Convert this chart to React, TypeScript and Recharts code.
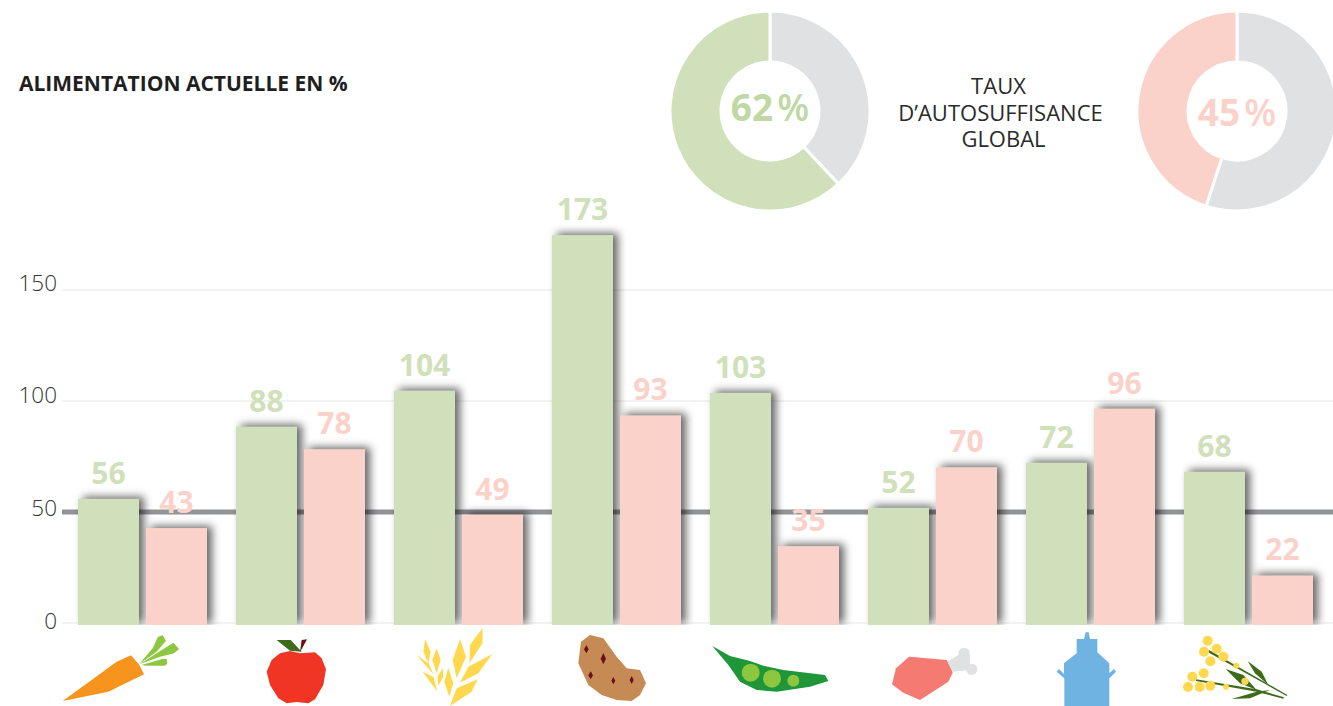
import React from "react";
import { ComposedChart, Bar, XAxis, YAxis, CartesianGrid, LabelList, PieChart, Pie, Cell } from "recharts";

const categories = ["Carottes", "Pommes", "Céréales", "Pommes de terre", "Légumineuses", "Viande", "Lait", "Oléagineux"];
const actuelle = [56, 88, 104, 173, 103, 52, 72, 68];
const autosuffisance = [43, 78, 49, 93, 35, 70, 96, 22];
const yTicks = [0, 50, 100, 150];
const donutGreen = [{ name: "reste", value: 38 }, { name: "actuelle", value: 62 }];
const donutPink = [{ name: "reste", value: 55 }, { name: "autosuffisance", value: 45 }];
const rows = categories.map((c, i) => ({ c, a: actuelle[i], b: autosuffisance[i] }));

const GREEN = "#cfe0ba";
const PINK = "#fbd2ca";
const GREY = "#e0e1e3";
const FONT = "'Open Sans', sans-serif";
const tickNudge = [3, 1, -1, -2];

type Shape = { f: string; p?: string; c?: [number, number, number] };
const diamond = (x: number, y: number, h: number, w: number) => `${x},${y - h} ${x + w},${y} ${x},${y + h} ${x - w},${y}`;
const ZOOM_A = [0, 440];
const ZOOM_B = [400, 500];
const ZOOM_C = [860, 500];
const Y = "#ffd84d";
const DK = "#3d6b1a";
const LG = "#8dc63f";
const SP = "#6b0f1a";
const icons: { origin: number[]; cx: number; shapes: Shape[] }[] = [
  { origin: ZOOM_A, cx: 142, shapes: [
    { f: "#f7941d", p: "188,783 350,665 393,646 418,675 432,703 325,755" },
    { f: LG, p: "418,672 458,625 474,590 488,586 498,602 470,635" },
    { f: LG, p: "420,672 470,640 520,608 537,627 522,640 480,650" },
    { f: LG, p: "424,675 490,656 500,657 502,670 495,677 440,677" },
  ] },
  { origin: ZOOM_A, cx: 300, shapes: [
    { f: "#f13524", p: "800,695 815,660 840,640 870,633 900,640 945,637 965,655 978,688 970,735 945,778 925,790 890,786 860,790 835,775 810,735" },
    { f: DK, p: "830,600 872,600 905,635 870,632" },
    { f: SP, p: "905,600 921,598 900,637" },
  ] },
  { origin: ZOOM_B, cx: 458, shapes: [
    { f: Y, p: "75,418 92,455 85,490 70,455" },
    { f: Y, p: "110,445 122,480 110,520 97,480" },
    { f: Y, p: "50,465 85,490 102,525" },
    { f: Y, p: "68,515 100,530 112,575" },
    { f: Y, p: "128,505 130,530 115,557 112,530" },
    { f: Y, p: "145,503 160,550 148,590 133,545" },
    { f: Y, p: "180,417 198,470 170,535 158,480" },
    { f: Y, p: "248,383 247,430 208,490 210,435" },
    { f: Y, p: "277,462 235,520 180,548 205,500" },
    { f: Y, p: "233,538 215,575 150,618 170,565" },
  ] },
  { origin: ZOOM_B, cx: 616, shapes: [
    { f: "#c68a54", p: "570,405 610,415 650,470 680,505 720,510 738,550 720,585 695,603 650,600 605,585 565,555 535,490 543,425" },
    { f: SP, p: diamond(559, 448, 12, 7) },
    { f: SP, p: diamond(610, 476, 17, 8) },
    { f: SP, p: diamond(572, 526, 12, 7) },
    { f: SP, p: diamond(640, 542, 11, 6) },
    { f: SP, p: diamond(695, 540, 12, 6) },
  ] },
  { origin: ZOOM_B, cx: 774, shapes: [
    { f: "#1e9639", p: "937,438 990,468 1050,483 1090,497 1150,510 1275,525 1285,543 1230,560 1130,575 1070,570 1020,545 985,495" },
    { f: LG, c: [1052, 518, 27] },
    { f: LG, c: [1116, 536, 27] },
    { f: LG, c: [1180, 542, 18] },
  ] },
  { origin: ZOOM_C, cx: 932, shapes: [
    { f: GREY, p: "262,485 295,465 330,465 330,510 275,515" },
    { f: GREY, c: [312, 460, 17] },
    { f: GREY, c: [335, 508, 17] },
    { f: "#f47a72", p: "147,470 260,480 278,518 265,545 180,600 130,578 96,553 108,505" },
  ] },
  { origin: ZOOM_C, cx: 1090, shapes: [
    { f: "#6fb3e3", p: "677,397 686,397 690,417 712,417 712,457 748,490 748,520 762,507 768,515 748,535 748,618 613,618 613,535 590,515 597,507 612,522 612,490 650,460 650,417 672,417" },
  ] },
  { origin: ZOOM_C, cx: 1248, shapes: [
    { f: DK, p: "1047,450 1282,585 1280,588 1043,456" },
    { f: DK, p: "1008,538 1190,568 1272,592 1270,596 1190,575 1008,543" },
    { f: DK, p: "1163,483 1205,515 1225,555 1185,520" },
    { f: DK, p: "1097,507 1150,525 1190,570 1140,550" },
    { f: DK, p: "1115,597 1190,575 1230,570 1170,595" },
    { f: Y, c: [1043, 422, 15] },
    { f: Y, c: [1070, 446, 15] },
    { f: Y, c: [1032, 455, 15] },
    { f: Y, c: [1090, 470, 15] },
    { f: Y, c: [1051, 484, 15] },
    { f: Y, c: [1129, 497, 9] },
    { f: Y, c: [997, 530, 15] },
    { f: Y, c: [1031, 520, 15] },
    { f: Y, c: [1155, 544, 11] },
    { f: Y, c: [984, 561, 15] },
    { f: Y, c: [1019, 561, 15] },
    { f: Y, c: [1051, 557, 15] },
    { f: Y, c: [1098, 560, 9] },
  ] },
];

const IconTick = (props: any) => {
  const icon = icons[props.index];
  if (!icon) return null;
  const dx = props.x - icon.cx + icon.origin[0];
  return (
    <g transform={`translate(${dx},${icon.origin[1]}) scale(${1 / 3})`}>
      {icon.shapes.map((s, i) =>
        s.p ? <polygon key={i} points={s.p} fill={s.f} /> : <circle key={i} cx={s.c![0]} cy={s.c![1]} r={s.c![2]} fill={s.f} />
      )}
    </g>
  );
};

const YTick = (props: any) => (
  <text x={57} y={props.y + 3 + tickNudge[yTicks.indexOf(props.payload.value)]} textAnchor="end" fontFamily={FONT} fontWeight={300} fontSize={22.5} fill="#333333">
    {props.payload.value}
  </text>
);

// the line at value 50 is the heavy reference line
const GridLine = (props: any) => {
  if (props.y1 < 240) return null;
  const heavy = Math.abs(props.y1 - 512) < 2;
  return <line x1={props.x1} x2={props.x2} y1={props.y1} y2={props.y2} stroke={heavy ? "#929397" : "#e6e6e6"} strokeWidth={heavy ? 5 : 1} />;
};

const ShadowBar = (props: any) => (
  <rect x={props.x} y={props.y} width={props.width} height={props.height} fill={props.fill}
    style={{ filter: "drop-shadow(5px -2px 4.5px rgba(0,0,0,0.6))" }} />
);

const Donut = ({ data, colour, left, pct, pctColour, pctY }: any) => (
  <>
    <div style={{ position: "absolute", left, top: 0 }}>
      <PieChart width={220} height={222} margin={{ top: 0, right: 0, bottom: 0, left: 0 }}>
        <Pie data={data} dataKey="value" cx={110} cy={111} innerRadius={49} outerRadius={100} startAngle={90} endAngle={-270}
          stroke="#ffffff" strokeWidth={3} isAnimationActive={false}>
          <Cell fill={GREY} />
          <Cell fill={colour} />
        </Pie>
      </PieChart>
    </div>
    <div style={{ position: "absolute", left, width: 220, top: pctY, textAlign: "center", fontFamily: FONT, fontSize: 37, fontWeight: 700, lineHeight: "48px", color: pctColour }}>
      {pct}<span style={{ fontWeight: 600, marginLeft: 4 }}>%</span>
    </div>
  </>
);

export default function App() {
  return (
    <div style={{ position: "absolute", left: 0, top: 0, width: 1333, height: 706, overflow: "hidden", background: "#fff" }}>
      <ComposedChart width={1333} height={706} data={rows} barGap={7} margin={{ top: 225, right: 0, bottom: 0, left: 0 }}>
        <CartesianGrid yAxisId="ticks" vertical={false} horizontal={<GridLine />} syncWithTicks />
        <XAxis dataKey="c" height={81} axisLine={false} tickLine={false} interval={0} padding={{ left: 1, right: 6 }} tick={<IconTick />} />
        <YAxis yAxisId="ticks" width={62} domain={[-0.9, 179.28]} ticks={yTicks} axisLine={false} tickLine={false} tickMargin={5} tick={<YTick />} allowDataOverflow />
        <YAxis yAxisId="bars" hide domain={[0, 177.46]} allowDataOverflow />
        <Bar yAxisId="bars" dataKey="a" barSize={61} fill={GREEN} shape={<ShadowBar />} isAnimationActive={false}>
          <LabelList dataKey="a" position="top" offset={15} fill={GREEN} fontFamily={FONT} fontWeight={700} fontSize={30} />
        </Bar>
        <Bar yAxisId="bars" dataKey="b" barSize={61} fill={PINK} shape={<ShadowBar />} isAnimationActive={false}>
          <LabelList dataKey="b" position="top" offset={15} fill={PINK} fontFamily={FONT} fontWeight={700} fontSize={30} />
        </Bar>
      </ComposedChart>

      <div style={{ position: "absolute", left: 19, top: 68, fontFamily: FONT, fontSize: 21, fontWeight: 700, lineHeight: "30px", color: "#1f1f1f", whiteSpace: "nowrap" }}>
        ALIMENTATION ACTUELLE EN %
      </div>
      <div style={{ position: "absolute", left: 880, width: 241, top: 72, textAlign: "center", fontFamily: FONT, fontSize: 22, lineHeight: "26.5px", color: "#2a2a2a" }}>
        <span style={{ position: "relative", left: -2 }}>TAUX</span><br />D’AUTOSUFFISANCE<br /><span style={{ position: "relative", left: 3 }}>GLOBAL</span>
      </div>
      <Donut data={donutGreen} colour={GREEN} left={660} pct="62" pctColour="#bfd8a4" pctY={83} />
      <Donut data={donutPink} colour={PINK} left={1127} pct="45" pctColour={PINK} pctY={88} />
    </div>
  );
}
